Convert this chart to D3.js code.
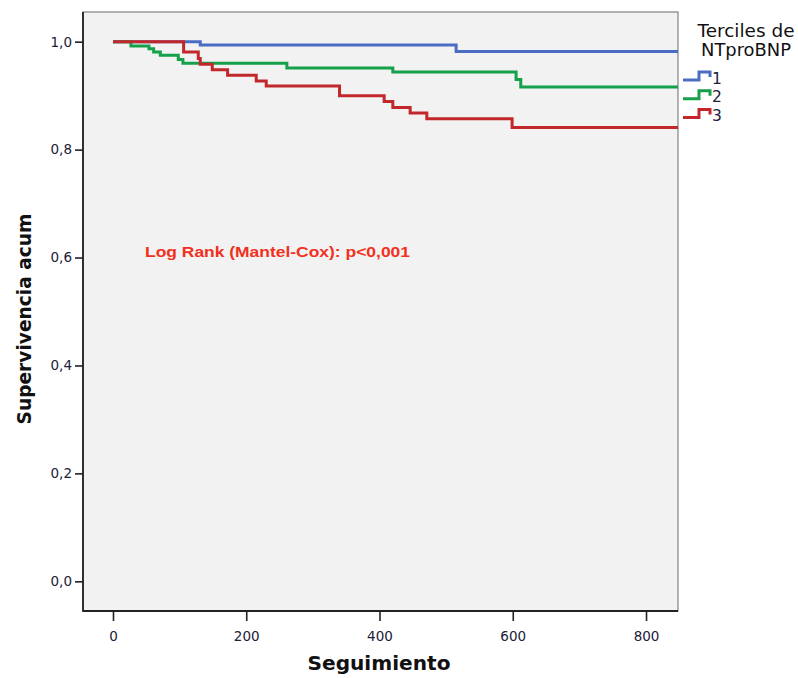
<!DOCTYPE html>
<html>
<head>
<meta charset="utf-8">
<script src="https://cdn.jsdelivr.net/npm/d3@7"></script>
<style>
  html, body { margin: 0; padding: 0; background: #ffffff; }
  svg { display: block; }
</style>
</head>
<body>
<svg id="chart" width="798" height="678"></svg>
<script>
// ---- data ----
const seriesNames = ["1", "2", "3"];
const seriesColors = ["#4a6cc2", "#15a04a", "#c2282b"];
// step times (days) and survival after each step
const times1 = [0, 131, 515, 850];
const surv1  = [1.0, 0.994, 0.982, 0.982];
const times2 = [0, 27, 54, 61, 71, 98, 105, 261, 420, 605, 612, 850];
const surv2  = [1.0, 0.992, 0.987, 0.981, 0.975, 0.967, 0.960, 0.951, 0.944, 0.930, 0.916, 0.916];
const times3 = [0, 106, 128, 131, 149, 172, 215, 230, 340, 407, 420, 446, 471, 599, 850];
const surv3  = [1.0, 0.981, 0.969, 0.958, 0.948, 0.938, 0.927, 0.918, 0.900, 0.889, 0.878, 0.868, 0.857, 0.841, 0.841];
const xTicks = [0, 200, 400, 600, 800];
const yTicks = [0, 0.2, 0.4, 0.6, 0.8, 1.0];
const xTitle = "Seguimiento";
const yTitle = "Supervivencia acum";
const legendTitle = ["Terciles de", "NTproBNP"];
const annotation = "Log Rank (Mantel-Cox): p<0,001";

// ---- layout ----
const svg = d3.select("#chart");
const plot = { left: 83, right: 678, top: 12, bottom: 611 };
const x = d3.scaleLinear().domain([-45, 848]).range([plot.left, plot.right]);
const y = d3.scaleLinear().domain([-0.055, 1.055]).range([plot.bottom, plot.top]);
const fmt = v => d3.format(".1f")(v).replace(".", ",");

// plot background
svg.append("rect")
  .attr("x", plot.left).attr("y", plot.top)
  .attr("width", plot.right - plot.left).attr("height", plot.bottom - plot.top)
  .attr("fill", "#f2f2f2").attr("stroke", "#6b6b6b").attr("stroke-width", 1);

svg.append("defs").append("clipPath").attr("id", "clip")
  .append("rect")
  .attr("x", plot.left).attr("y", plot.top)
  .attr("width", plot.right - plot.left).attr("height", plot.bottom - plot.top);

// axes
const xAxis = d3.axisBottom(x).tickValues(xTicks).tickSize(10).tickSizeOuter(0).tickFormat(d3.format("d"));
const yAxis = d3.axisLeft(y).tickValues(yTicks).tickSize(8).tickSizeOuter(0).tickFormat(fmt);

const gx = svg.append("g").attr("transform", `translate(0,${plot.bottom})`).call(xAxis);
const gy = svg.append("g").attr("transform", `translate(${plot.left},0)`).call(yAxis);
[gx, gy].forEach(g => {
  g.select(".domain").remove();
  g.selectAll(".tick line").attr("stroke", "#222").attr("stroke-width", 1.6);
  g.selectAll(".tick text")
    .attr("font-family", "'DejaVu Sans', sans-serif")
    .attr("font-size", 13.5).attr("fill", "#1c2038");
});
gx.selectAll(".tick text").attr("dy", null).attr("y", 30);
gy.selectAll(".tick text").attr("x", -11);

// axis lines (left and bottom, darker)
svg.append("line").attr("x1", plot.left).attr("x2", plot.left)
  .attr("y1", plot.top).attr("y2", plot.bottom + 0.5)
  .attr("stroke", "#222").attr("stroke-width", 1.8);
svg.append("line").attr("x1", plot.left - 0.5).attr("x2", plot.right)
  .attr("y1", plot.bottom).attr("y2", plot.bottom)
  .attr("stroke", "#222").attr("stroke-width", 1.8);

// curves
const series = [
  { t: times1, s: surv1 },
  { t: times2, s: surv2 },
  { t: times3, s: surv3 }
];
const line = d3.line().x(d => x(d[0])).y(d => y(d[1])).curve(d3.curveStepAfter);
const curves = svg.append("g").attr("clip-path", "url(#clip)");
series.forEach((ser, i) => {
  const pts = ser.t.map((t, k) => [t, ser.s[k]]);
  curves.append("path")
    .attr("d", line(pts))
    .attr("fill", "none")
    .attr("stroke", seriesColors[i])
    .attr("stroke-width", 3);
});

// annotation
svg.append("text")
  .attr("x", 145).attr("y", 257)
  .attr("font-family", "'Liberation Sans', Arial, sans-serif")
  .attr("font-weight", "bold").attr("font-size", 15.5)
  .attr("textLength", 265).attr("lengthAdjust", "spacingAndGlyphs")
  .attr("fill", "#f2301e")
  .text(annotation);

// axis titles
svg.append("text")
  .attr("x", 379).attr("y", 670)
  .attr("text-anchor", "middle")
  .attr("font-family", "'DejaVu Sans', sans-serif")
  .attr("font-weight", "bold").attr("font-size", 19)
  .attr("textLength", 143).attr("lengthAdjust", "spacingAndGlyphs")
  .attr("fill", "#111")
  .text(xTitle);
svg.append("text")
  .attr("transform", "translate(31,319) rotate(-90)")
  .attr("text-anchor", "middle")
  .attr("font-family", "'DejaVu Sans', sans-serif")
  .attr("font-weight", "bold").attr("font-size", 19)
  .attr("textLength", 211).attr("lengthAdjust", "spacingAndGlyphs")
  .attr("fill", "#111")
  .text(yTitle);

// legend
const lg = svg.append("g");
legendTitle.forEach((txt, i) => {
  lg.append("text")
    .attr("x", 746).attr("y", 37 + i * 18.5)
    .attr("text-anchor", "middle")
    .attr("font-family", "'DejaVu Sans', sans-serif")
    .attr("font-size", 17.5).attr("fill", "#111")
    .attr("textLength", i === 0 ? 97 : 90).attr("lengthAdjust", "spacingAndGlyphs")
    .text(txt);
});
seriesNames.forEach((name, i) => {
  const by = 80 + i * 18.7;
  lg.append("path")
    .attr("d", `M683,${by} H699 V${by - 8} H710 V${by - 3}`)
    .attr("fill", "none").attr("stroke", seriesColors[i]).attr("stroke-width", 3);
  lg.append("text")
    .attr("x", 712).attr("y", by + 3.5)
    .attr("font-family", "'DejaVu Sans', sans-serif")
    .attr("font-size", 15.5).attr("fill", "#1c2038")
    .text(name);
});
</script>
</body>
</html>
